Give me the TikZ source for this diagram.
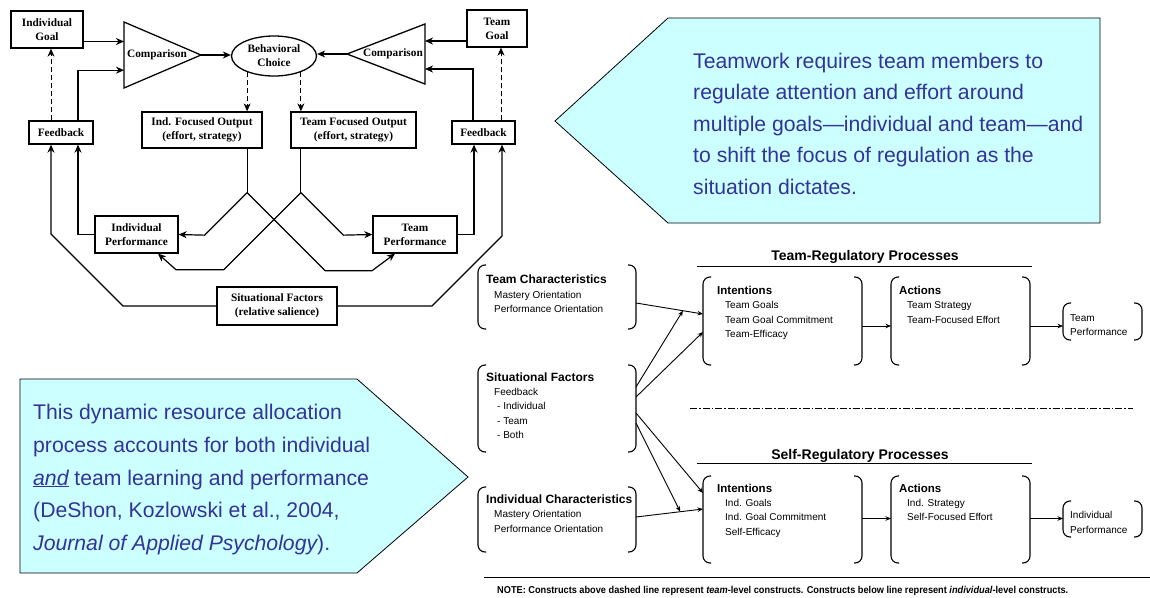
\documentclass[tikz,border=0pt]{standalone}
\usepackage{fontspec}
\setmainfont{Liberation Serif}
\newfontfamily\arialf{Liberation Sans}
\usetikzlibrary{arrows.meta,calc,shapes.geometric}
\definecolor{calloutfill}{RGB}{204,255,255}
\definecolor{callouttext}{RGB}{51,51,153}
\newcommand\bracketsof[1]{%
  \draw[brk] ($(#1.north west)+(8,0)$) -- (#1.north west) -- (#1.south west) -- ($(#1.south west)+(8,0)$);
  \draw[brk] ($(#1.north east)+(-8,0)$) -- (#1.north east) -- (#1.south east) -- ($(#1.south east)+(-8,0)$);}
\begin{document}
\begin{tikzpicture}[x=1pt,y=-1pt,
  lbox/.style={draw, line width=1.3pt, font=\fontsize{11.3}{14}\selectfont\bfseries, align=center, inner sep=0pt},
  tlabel/.style={font=\fontsize{11.3}{14}\selectfont\bfseries, inner sep=0pt},
  arr/.style={line width=1.2pt, -{Stealth[length=8pt,width=7pt,inset=2.5pt]}},
  darr/.style={line width=0.9pt, dash pattern=on 5pt off 3pt, -{Stealth[length=8pt,width=7pt,inset=2.5pt,line width=0.9pt]}},
  ln/.style={line width=1.2pt},
  brk/.style={line width=1.1pt, rounded corners=7pt},
  bnode/.style={inner sep=0pt, outer sep=0pt},
  sarr/.style={line width=0.9pt, -{Stealth[length=5.5pt,width=4.5pt]}},
  hdr/.style={font=\arialf\bfseries\fontsize{12}{14}\selectfont, inner sep=0pt, anchor=base west},
  ihdr/.style={font=\arialf\bfseries\fontsize{11.5}{14}\selectfont, inner sep=0pt, anchor=base west},
  itm/.style={font=\arialf\fontsize{10}{12}\selectfont, inner sep=0pt, anchor=base west},
  ttl/.style={font=\arialf\bfseries\fontsize{14}{16}\selectfont, inner sep=0pt, anchor=base},
  callout/.style={draw=black, line width=0.8pt, fill=calloutfill},
  ctext/.style={font=\arialf\fontsize{21.2}{26}\selectfont, text=callouttext, inner sep=0pt, anchor=base west}
]
\useasboundingbox[fill=white] (0,0) rectangle (1150,597);

% ---------- callouts ----------
\draw[callout] (668,18) -- (1100,18) -- (1100,223) -- (668,223) -- (555,121) -- cycle;
\node[ctext] (ct1) at (693,68) {Teamwork requires team members to};
\node[ctext] (ct2) at (693,99.5) {regulate attention and effort around};
\node[ctext] (ct3) at (693,131) {multiple goals—individual and team—and};
\node[ctext] (ct4) at (693,162.5) {to shift the focus of regulation as the};
\node[ctext] (ct5) at (693,194) {situation dictates.};

\draw[callout] (20,379) -- (357,379) -- (468,477) -- (357,573) -- (20,573) -- cycle;
\node[ctext] (cb1) at (33,419) {This dynamic resource allocation};
\node[ctext] (cb2) at (33,452) {process accounts for both individual};
\node[ctext] (cb3) at (33,485) {\underline{\itshape and} team learning and performance};
\node[ctext] (cb4) at (33,517) {(DeShon, Kozlowski et al., 2004,};
\node[ctext] (cb5) at (33,550) {\itshape Journal of Applied Psychology\upshape).};

% ---------- top-left model ----------
\node[lbox, minimum width=72pt, minimum height=37pt] (ig) at (47,29.5) {Individual\\Goal};
\node[lbox, minimum width=60pt, minimum height=37pt] (tg) at (497,28.5) {Team\\Goal};
\node[lbox, ellipse, minimum width=85pt, minimum height=40pt] (bc) at (274,56) {Behavioral\\Choice};
\node[lbox, minimum width=120pt, minimum height=36pt] (ifo) at (202,130) {Ind. Focused Output\\(effort, strategy)};
\node[lbox, minimum width=125pt, minimum height=36pt] (tfo) at (353.5,130) {Team Focused Output\\(effort, strategy)};
\node[lbox, minimum width=64pt, minimum height=23pt] (fbl) at (61,132.5) {Feedback};
\node[lbox, minimum width=63pt, minimum height=23pt] (fbr) at (483.5,132.5) {Feedback};
\node[lbox, minimum width=83pt, minimum height=37pt] (ipf) at (136.5,234.5) {Individual\\Performance};
\node[lbox, minimum width=84pt, minimum height=37pt] (tpf) at (415,234.5) {Team\\Performance};
\node[lbox, minimum width=120pt, minimum height=38pt] (sfl) at (277,306) {Situational Factors\\(relative salience)};

% comparison triangles
\coordinate (clA) at (124,22); \coordinate (clB) at (124,88); \coordinate (clT) at (201,55);
\draw[line width=1.3pt, line join=miter] (clA) -- (clT) -- (clB) -- cycle;
\node[tlabel] (cl) at (157,55) {Comparison};
\coordinate (crA) at (425,24); \coordinate (crB) at (425,84); \coordinate (crT) at (347,54);
\draw[line width=1.3pt, line join=miter] (crA) -- (crT) -- (crB) -- cycle;
\node[tlabel] (cr) at (393,54) {Comparison};

% inputs to left comparison
\coordinate (igo) at ($(ig.east)+(0,12)$);
\draw[arr] (igo) -- (igo -| clA);
\coordinate (fblb) at ($(fbl.north)+(17,0)$);
\draw[arr] (fblb) |- ($(clA)!0.73!(clB)$);
\coordinate (fbla) at ($(fbl.north)+(-10,0)$);
\draw[darr] (fbla) -- (fbla |- ig.south);
\draw[arr] (clT) -- (clT -| bc.west);

% inputs to right comparison
\coordinate (tgo) at ($(tg.west)+(0,12.5)$);
\draw[arr] (tgo) -- (tgo -| crA);
\coordinate (fbrb) at ($(fbr.north)+(-10.5,0)$);
\draw[arr] (fbrb) |- ($(crA)!0.75!(crB)$);
\coordinate (fbra) at ($(fbr.north)+(17.5,0)$);
\draw[darr] (fbra) -- (fbra |- tg.south);
\draw[arr] (crT) -- (crT -| bc.east);

% behavioral choice to outputs
\draw[darr] (bc.211) -- (bc.211 |- ifo.north);
\draw[darr] (bc.329) -- (bc.329 |- tfo.north);

% outputs to performance
\coordinate (ifoB) at (bc.211 |- ifo.south);
\coordinate (sp1) at ($(ifoB)+(0,44)$);
\draw[ln] (ifoB) -- (sp1);
\draw[arr] (sp1) -- ++(-42.5,42.5) -- (ipf.east);
\coordinate (tpfin) at ($(tpf.south)+(-20,0)$);
\draw[arr] (sp1) -- ++(78,78) -- ++(47,0) -- (tpfin);

\coordinate (tfoB) at (bc.329 |- tfo.south);
\coordinate (sp2) at ($(tfoB)+(0,44)$);
\draw[ln] (tfoB) -- (sp2);
\draw[arr] (sp2) -- ++(42.5,42.5) -- (tpf.west);
\coordinate (ipfin) at ($(ipf.south)+(21.5,0)$);
\draw[arr] (sp2) -- ++(-77,77) -- ++(-48,0) -- (ipfin);

% performance / situation to feedback
\coordinate (fblbb) at ($(fbl.south)+(17,0)$);
\draw[arr] (ipf.west) -| (fblbb);
\coordinate (fblab) at ($(fbl.south)+(-10,0)$);
\draw[arr] (sfl.west) -- ($(fblab |- sfl.west)+(72,0)$) -- ($(fblab |- sfl.west)+(0,-72)$) -- (fblab);
\coordinate (fbrbb) at ($(fbr.south)+(-9.5,0)$);
\draw[arr] (tpf.east) -| (fbrbb);
\coordinate (fbrab) at ($(fbr.south)+(18.5,0)$);
\draw[arr] (sfl.east) -- ($(fbrab |- sfl.east)+(-70,0)$) -- ($(fbrab |- sfl.east)+(0,-70)$) -- (fbrab);

% ---------- right model ----------
\node[bnode, minimum width=158pt, minimum height=64pt] (tc) at (557,297) {};
\node[bnode, minimum width=158pt, minimum height=87pt] (sitf) at (557,408.5) {};
\node[bnode, minimum width=158pt, minimum height=65pt] (ic) at (557,519.5) {};
\node[bnode, minimum width=159pt, minimum height=88pt] (tint) at (782.5,321) {};
\node[bnode, minimum width=139pt, minimum height=88pt] (tact) at (960.5,321) {};
\node[bnode, minimum width=79pt, minimum height=37pt] (tperf) at (1102.5,321.5) {};
\node[bnode, minimum width=159pt, minimum height=87pt] (sint) at (782.5,519.5) {};
\node[bnode, minimum width=139pt, minimum height=87pt] (sact) at (960.5,519.5) {};
\node[bnode, minimum width=79pt, minimum height=36pt] (sperf) at (1102.5,519) {};
\bracketsof{tc}\bracketsof{sitf}\bracketsof{ic}
\bracketsof{tint}\bracketsof{tact}\bracketsof{tperf}
\bracketsof{sint}\bracketsof{sact}\bracketsof{sperf}

\node[hdr] (tc1) at (486,283) {Team Characteristics};
\node[itm] (tc2) at (494,298) {Mastery Orientation};
\node[itm] (tc3) at (494,312) {Performance Orientation};

\node[hdr] (sf1) at (486,381) {Situational Factors};
\node[itm] (sf2) at (494,395) {Feedback};
\node[itm] (sf3) at (497,409.5) {- Individual};
\node[itm] (sf4) at (497,424) {- Team};
\node[itm] (sf5) at (497,438) {- Both};

\node[hdr] (ic1) at (486,503) {Individual Characteristics};
\node[itm] (ic2) at (494,517) {Mastery Orientation};
\node[itm] (ic3) at (494,532) {Performance Orientation};

\node[ttl] (ttr) at (865,260) {Team-Regulatory Processes};
\draw[line width=0.9pt] (697,266) -- (1032,266);
\node[ihdr] (ti1) at (717,294) {Intentions};
\node[itm] (ti2) at (725,308) {Team Goals};
\node[itm] (ti3) at (725,323) {Team Goal Commitment};
\node[itm] (ti4) at (725,337) {Team-Efficacy};
\node[ihdr] (ta1) at (899,294) {Actions};
\node[itm] (ta2) at (907,308) {Team Strategy};
\node[itm] (ta3) at (907,323) {Team-Focused Effort};
\node[itm] (tp1) at (1070,321) {Team};
\node[itm] (tp2) at (1070,335) {Performance};

\draw[line width=1pt, dash pattern=on 7pt off 2pt on 1.5pt off 2pt] (690,408) -- (1133,408);

\node[ttl] (tsr) at (860,459) {Self-Regulatory Processes};
\draw[line width=0.9pt] (697,463) -- (1032,463);
\node[ihdr] (si1) at (717,492) {Intentions};
\node[itm] (si2) at (725,506) {Ind. Goals};
\node[itm] (si3) at (725,520) {Ind. Goal Commitment};
\node[itm] (si4) at (725,535) {Self-Efficacy};
\node[ihdr] (sa1) at (899,492) {Actions};
\node[itm] (sa2) at (907,506) {Ind. Strategy};
\node[itm] (sa3) at (907,520) {Self-Focused Effort};
\node[itm] (sp1t) at (1070,518) {Individual};
\node[itm] (sp2t) at (1070,533) {Performance};

% arrows right model
\coordinate (a1s) at ($(tc.east)+(0,6)$);
\coordinate (a1e) at ($(tint.west)+(0,-7)$);
\draw[sarr] (a1s) -- (a1e);
\draw[sarr] ($(sitf.east)+(0,-21.5)$) -- ($(a1s)!0.7!(a1e)$);
\draw[sarr] ($(sitf.east)+(0,-11.5)$) -- ($(tint.west)+(0,11)$);
\draw[sarr] ($(sitf.east)+(0,4.5)$) -- ($(sint.west)+(0,-26.5)$);
\coordinate (a2s) at ($(ic.east)+(0,-2.5)$);
\coordinate (a2e) at ($(sint.west)+(0,-10.5)$);
\draw[sarr] (a2s) -- (a2e);
\draw[sarr] ($(sitf.east)+(0,14.5)$) -- ($(a2s)!0.66!(a2e)$);
\draw[sarr] ($(tint.east)+(0,5)$) -- ($(tact.west)+(0,5)$);
\draw[sarr] ($(tact.east)+(0,5)$) -- ($(tperf.west)+(0,4.5)$);
\draw[sarr] ($(sint.east)+(0,-1)$) -- ($(sact.west)+(0,-1)$);
\draw[sarr] ($(sact.east)+(0,-1)$) -- ($(sperf.west)+(0,-0.5)$);

\draw[line width=1pt] (484,577) -- (1150,577);
\node[anchor=base west, inner sep=0pt, font=\arialf\bfseries\fontsize{10}{12}\selectfont] (note) at (497,593) {\scalebox{0.92}[1]{NOTE: Constructs above dashed line represent \textit{team}-level constructs. Constructs below line represent \textit{individual}-level constructs.}};
\end{tikzpicture}
\end{document}
